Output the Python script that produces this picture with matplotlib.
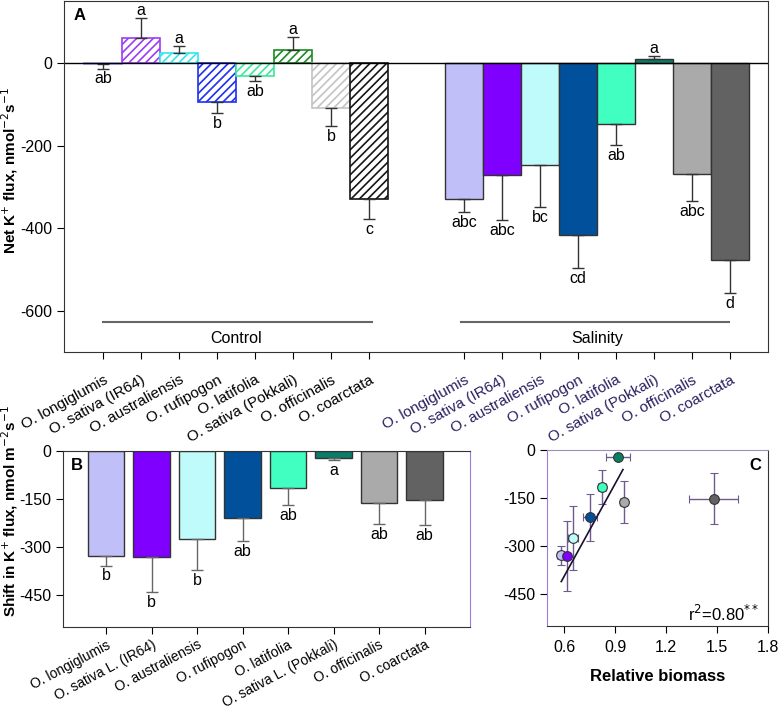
import numpy as np
import matplotlib.pyplot as plt

plt.rcParams['font.family'] = ['Liberation Sans', 'DejaVu Sans']
plt.rcParams['hatch.linewidth'] = 1.2

# species names (tick labels)
species_a = ["O. longiglumis", "O. sativa (IR64)", "O. australiensis", "O. rufipogon",
             "O. latifolia", "O. sativa (Pokkali)", "O. officinalis", "O. coarctata"]
species_b = ["O. longiglumis", "O. sativa L. (IR64)", "O. australiensis", "O. rufipogon",
             "O. latifolia", "O. sativa L. (Pokkali)", "O. officinalis", "O. coarctata"]

# panel A - net K+ flux
control_flux = [-2, 61, 25, -94, -32, 33, -108, -328]
control_err = [11, 50, 18, 27, 12, 30, 45, 49]
control_letters = ["ab", "a", "a", "b", "ab", "a", "b", "c"]

salinity_flux = [-330, -270, -247, -417, -147, 11, -268, -478]
salinity_err = [30, 111, 101, 79, 52, 7, 67, 80]
salinity_letters = ["abc", "abc", "bc", "cd", "ab", "a", "abc", "d"]

# panel B - shift in K+ flux
shift_flux = [-329, -332, -274, -210, -115, -22, -162, -152]
shift_err = [30, 109, 100, 73, 54, 6, 66, 79]
shift_letters = ["b", "b", "b", "ab", "ab", "a", "ab", "ab"]

# panel C - relative biomass vs shift
biomass = [0.578, 0.614, 0.649, 0.752, 0.821, 0.914, 0.949, 1.478]
biomass_err = [0.02, 0.02, 0.03, 0.04, 0.025, 0.07, 0.02, 0.146]
fit_x = [0.582, 0.945]
fit_y = [-411, -61]

control_colors = ["#a99cf0", "#9d3cf5", "#34e6ee", "#1f2ff0",
                  "#3de89a", "#1d8a24", "#c4c4c4", "#151515"]
salinity_colors = ["#c0bff7", "#7f00ff", "#c0fbfb", "#00509c",
                   "#40ffc0", "#0a7d66", "#aaaaaa", "#626262"]


def one_sided(vals, errs):
    lower = [e if v < 0 else 0 for v, e in zip(vals, errs)]
    upper = [e if v >= 0 else 0 for v, e in zip(vals, errs)]
    return np.array([lower, upper])


def put_letters(ax, xs, vals, errs, letters, size=11.5):
    for x, v, e, t in zip(xs, vals, errs, letters):
        if v >= 0:
            ax.annotate(t, (x, v + e), xytext=(0, 0), textcoords='offset points',
                        ha='center', va='bottom', fontsize=size)
        else:
            ax.annotate(t, (x, v - e), xytext=(0, -2), textcoords='offset points',
                        ha='center', va='top', fontsize=size)


fig = plt.figure(figsize=(7.78, 7.14), dpi=100)

# ---------------- panel A ----------------
axA = fig.add_axes([0.0823, 0.507, 0.9049, 0.491])
x_ctrl = np.arange(8)
x_sal = np.arange(8) + 9.5

axA.bar(x_ctrl, control_flux, width=1.0, color='white', edgecolor=control_colors,
        hatch='////', linewidth=1.2)
axA.bar(x_sal, salinity_flux, width=1.0, color=salinity_colors, edgecolor='#333333',
        linewidth=1.0)
axA.errorbar(x_ctrl, control_flux, yerr=one_sided(control_flux, control_err), fmt='none',
             ecolor='#333333', elinewidth=1, capsize=4)
axA.errorbar(x_sal, salinity_flux, yerr=one_sided(salinity_flux, salinity_err), fmt='none',
             ecolor='#333333', elinewidth=1, capsize=4)
put_letters(axA, x_ctrl, control_flux, control_err, control_letters)
put_letters(axA, x_sal, salinity_flux, salinity_err, salinity_letters)
axA.axhline(0, color='black', lw=1)

# group lines
axA.plot([x_ctrl[0], x_ctrl[-1] + 0.08], [-628, -628], color='#666666', lw=1.5)
axA.plot([x_sal[0] - 0.08, x_sal[-1] - 0.03], [-628, -628], color='#666666', lw=1.5)
axA.text(x_ctrl.mean(), -668, "Control", ha='center', va='center', fontsize=11.5)
axA.text(x_sal.mean(), -668, "Salinity", ha='center', va='center', fontsize=11.5)

axA.set_xlim(-1.03, 17.5)
axA.set_ylim(-700, 150)
axA.set_yticks([0, -200, -400, -600])
axA.set_yticklabels(["0", "-200", "-400", "-600"])
axA.set_xticks(np.concatenate([x_ctrl, x_sal]))
axA.set_xticklabels(species_a + species_a, rotation=29, ha='right',
                    rotation_mode='anchor')
for i, lab in enumerate(axA.get_xticklabels()):
    if i >= 8:
        lab.set_color('#2b2060')
axA.tick_params(axis='both', labelsize=11.5, direction='out', length=5)
axA.tick_params(axis='x', labelsize=11, pad=10)
axA.set_ylabel("Net K$^{+}$ flux, nmol$^{-2}$s$^{-1}$", fontsize=11, fontweight='bold')
axA.yaxis.set_label_coords(-0.0625, 0.517)
axA.text(0.013, 0.96, "A", transform=axA.transAxes, fontsize=12, fontweight='bold',
         va='center')
for s in axA.spines.values():
    s.set_color('#333333')

# ---------------- panel B ----------------
axB = fig.add_axes([0.0814, 0.1223, 0.5227, 0.2460])
x_b = np.arange(8)
axB.bar(x_b, shift_flux, width=0.8, color=salinity_colors, edgecolor='#333333',
        linewidth=1.0)
axB.errorbar(x_b, shift_flux, yerr=one_sided(shift_flux, shift_err), fmt='none',
             ecolor='#666666', elinewidth=1, capsize=4)
put_letters(axB, x_b, shift_flux, shift_err, shift_letters)
axB.set_xlim(-0.94, 8.0)
axB.set_ylim(-550, 0)
axB.set_yticks([0, -150, -300, -450])
axB.set_yticklabels(["0", "-150", "-300", "-450"])
axB.set_xticks(x_b)
axB.set_xticklabels(species_b, rotation=28, ha='right', rotation_mode='anchor')
axB.tick_params(axis='both', labelsize=11.5, direction='out', length=5)
axB.tick_params(axis='x', labelsize=10, pad=3)
axB.set_ylabel("Shift in K$^{+}$ flux, nmol m$^{-2}$s$^{-1}$", fontsize=11,
               fontweight='bold')
axB.yaxis.set_label_coords(-0.1065, 0.66)
axB.text(0.018, 0.92, "B", transform=axB.transAxes, fontsize=12, fontweight='bold',
         va='center')
for s in axB.spines.values():
    s.set_color('#333333')
axB.spines['right'].set_color('#9b7fd6')

# ---------------- panel C ----------------
axC = fig.add_axes([0.7035, 0.1232, 0.2840, 0.2465])
for bx, by, bxe, bye, c in zip(biomass, shift_flux, biomass_err, shift_err,
                               salinity_colors):
    axC.errorbar(bx, by, xerr=bxe, yerr=bye, fmt='o', color=c, markersize=7,
                 markeredgecolor='#333333', markeredgewidth=0.8,
                 ecolor='#6e5a8e', elinewidth=1, capsize=3)
axC.plot(fit_x, fit_y, color='#1a1030', lw=1.2)
axC.set_xlim(0.5, 1.8)
axC.set_ylim(-550, 0)
axC.set_xticks([0.6, 0.9, 1.2, 1.5, 1.8])
axC.set_xticklabels(["0.6", "0.9", "1.2", "1.5", "1.8"])
axC.set_yticks([0, -150, -300, -450])
axC.set_yticklabels(["0", "-150", "-300", "-450"])
axC.tick_params(axis='both', labelsize=11.5, direction='out', length=5)
axC.tick_params(axis='x', pad=5)
axC.set_xlabel("Relative biomass", fontsize=12, fontweight='bold', labelpad=10)
axC.text(0.97, 0.91, "C", transform=axC.transAxes, fontsize=12, fontweight='bold',
         ha='right', va='center')
axC.text(0.96, 0.07, "r$^{2}$=0.80$^{**}$", transform=axC.transAxes, fontsize=12,
         ha='right', va='center')
for s in axC.spines.values():
    s.set_color('#333333')
axC.spines['left'].set_color('#9b7fd6')
axC.spines['top'].set_color('#9b8fc0')

fig.savefig("out.png", dpi=100)
